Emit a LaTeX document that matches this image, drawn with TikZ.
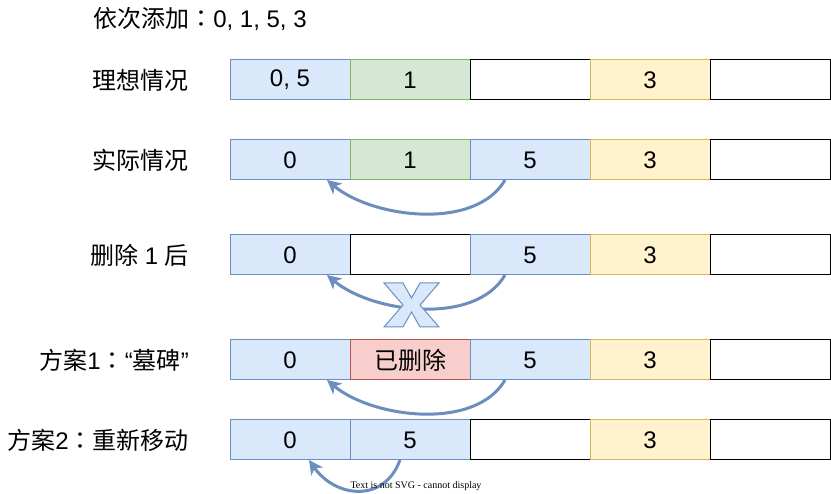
\documentclass[tikz,border=0pt]{standalone}
\usepackage{fontspec}
\setmainfont{Liberation Sans}
\newfontfamily\cjk{Noto Sans CJK SC}
\newfontfamily\cjkpunct{Noto Sans CJK TC}
\newfontfamily\svgnote{Liberation Serif}
\usetikzlibrary{positioning, arrows.meta}

\definecolor{blueFill}{HTML}{DAE8FC}
\definecolor{blueLine}{HTML}{6C8EBF}
\definecolor{greenFill}{HTML}{D5E8D4}
\definecolor{greenLine}{HTML}{82B366}
\definecolor{yellowFill}{HTML}{FFF2CC}
\definecolor{yellowLine}{HTML}{D6B656}
\definecolor{redFill}{HTML}{F8CECC}
\definecolor{redLine}{HTML}{B85450}

\newcommand{\fullcolon}{{\cjkpunct ：}}

\tikzstyle{cell} = [
    rectangle,
    draw,
    line width=1pt,
    outer sep=0pt,
    inner sep=0pt,
    minimum width=120pt,
    minimum height=40pt,
    font=\fontsize{24}{28}\selectfont
    ]
\tikzstyle{emptyCell} = [cell, draw=black, fill=white]
\tikzstyle{blueCell} = [cell, draw=blueLine, fill=blueFill]
\tikzstyle{greenCell} = [cell, draw=greenLine, fill=greenFill]
\tikzstyle{yellowCell} = [cell, draw=yellowLine, fill=yellowFill]
\tikzstyle{redCell} = [cell, draw=redLine, fill=redFill]
\tikzstyle{rowLabel} = [
    anchor=east,
    inner sep=0pt,
    font=\fontsize{24}{28}\selectfont
    ]
\tikzstyle{moveArrow} = [
    draw=blueLine,
    line width=3pt,
    -{Stealth[length=14pt, width=14pt, inset=4pt]}
    ]
\tikzstyle{crossMark} = [
    draw=blueLine,
    fill=blueFill,
    line width=1pt,
    line join=miter
    ]

\begin{document}
\begin{tikzpicture}[x=1pt, y=-1pt]
      \useasboundingbox (0,0) rectangle (831,494);
      \node[font=\fontsize{24}{28}\selectfont] (title) at (200,19) {{\cjk 依次添加}\fullcolon0, 1, 5, 3};

      % ideal
      \node[rowLabel] (ideal) at (189,80) {\cjk 理想情况};
      \node[blueCell] at (290,80) (r1c1) {0, 5};
      \node[greenCell, right=0pt of r1c1] (r1c2) {1};
      \node[emptyCell, right=0pt of r1c2] (r1c3) {};
      \node[yellowCell, right=0pt of r1c3] (r1c4) {3};
      \node[emptyCell, right=0pt of r1c4] (r1c5) {};

      % actual
      \node[rowLabel] (actual) at (189,160) {\cjk 实际情况};
      \node[blueCell] at (290,160) (r2c1) {0};
      \node[greenCell, right=0pt of r2c1] (r2c2) {1};
      \node[blueCell, right=0pt of r2c2] (r2c3) {5};
      \node[yellowCell, right=0pt of r2c3] (r2c4) {3};
      \node[emptyCell, right=0pt of r2c4] (r2c5) {};
      \draw[moveArrow] ([xshift=-25pt]r2c3.south) to[out=-120, in=-40, looseness=0.85] ([xshift=37pt]r2c1.south);

      % after delete
      \node[rowLabel] (deleted) at (189,255) {{\cjk 删除} 1 {\cjk 后}};
      \node[blueCell] at (290,255) (r3c1) {0};
      \node[emptyCell, right=0pt of r3c1] (r3c2) {};
      \node[blueCell, right=0pt of r3c2] (r3c3) {5};
      \node[yellowCell, right=0pt of r3c3] (r3c4) {3};
      \node[emptyCell, right=0pt of r3c4] (r3c5) {};
      \draw[moveArrow] ([xshift=-25pt]r3c3.south) to[out=-120, in=-40, looseness=0.85] ([xshift=37pt]r3c1.south);
      \coordinate (broken) at (411.5,305);
      \draw[crossMark, shift={(broken)}] (-27.5,-22) -- (-8.5,-22) -- (0,-7) -- (8.5,-22) -- (27.5,-22)
            -- (8.5,0) -- (27.5,22) -- (8.5,22) -- (0,7) -- (-8.5,22) -- (-27.5,22) -- (-8.5,0) -- cycle;

      % plan 1
      \node[rowLabel] (planA) at (189,360) {{\cjk 方案}1\fullcolon“{\cjk 墓碑}”};
      \node[blueCell] at (290,360) (r4c1) {0};
      \node[redCell, right=0pt of r4c1] (r4c2) {\cjk 已删除};
      \node[blueCell, right=0pt of r4c2] (r4c3) {5};
      \node[yellowCell, right=0pt of r4c3] (r4c4) {3};
      \node[emptyCell, right=0pt of r4c4] (r4c5) {};
      \draw[moveArrow] ([xshift=-25pt]r4c3.south) to[out=-120, in=-40, looseness=0.85] ([xshift=37pt]r4c1.south);

      % plan 2
      \node[rowLabel] (planB) at (189,440) {{\cjk 方案}2\fullcolon{\cjk 重新移动}};
      \node[blueCell] at (290,440) (r5c1) {0};
      \node[blueCell, right=0pt of r5c1] (r5c2) {5};
      \node[emptyCell, right=0pt of r5c2] (r5c3) {};
      \node[yellowCell, right=0pt of r5c3] (r5c4) {3};
      \node[emptyCell, right=0pt of r5c4] (r5c5) {};
      \draw[moveArrow] ([xshift=-10pt]r5c2.south) to[out=-110, in=-55, looseness=1.3] ([xshift=19pt]r5c1.south);
      \node[font=\svgnote\fontsize{10}{12}\selectfont, inner sep=0pt] (note) at (416,486) {Text is not SVG - cannot display};
    \end{tikzpicture}
\end{document}
